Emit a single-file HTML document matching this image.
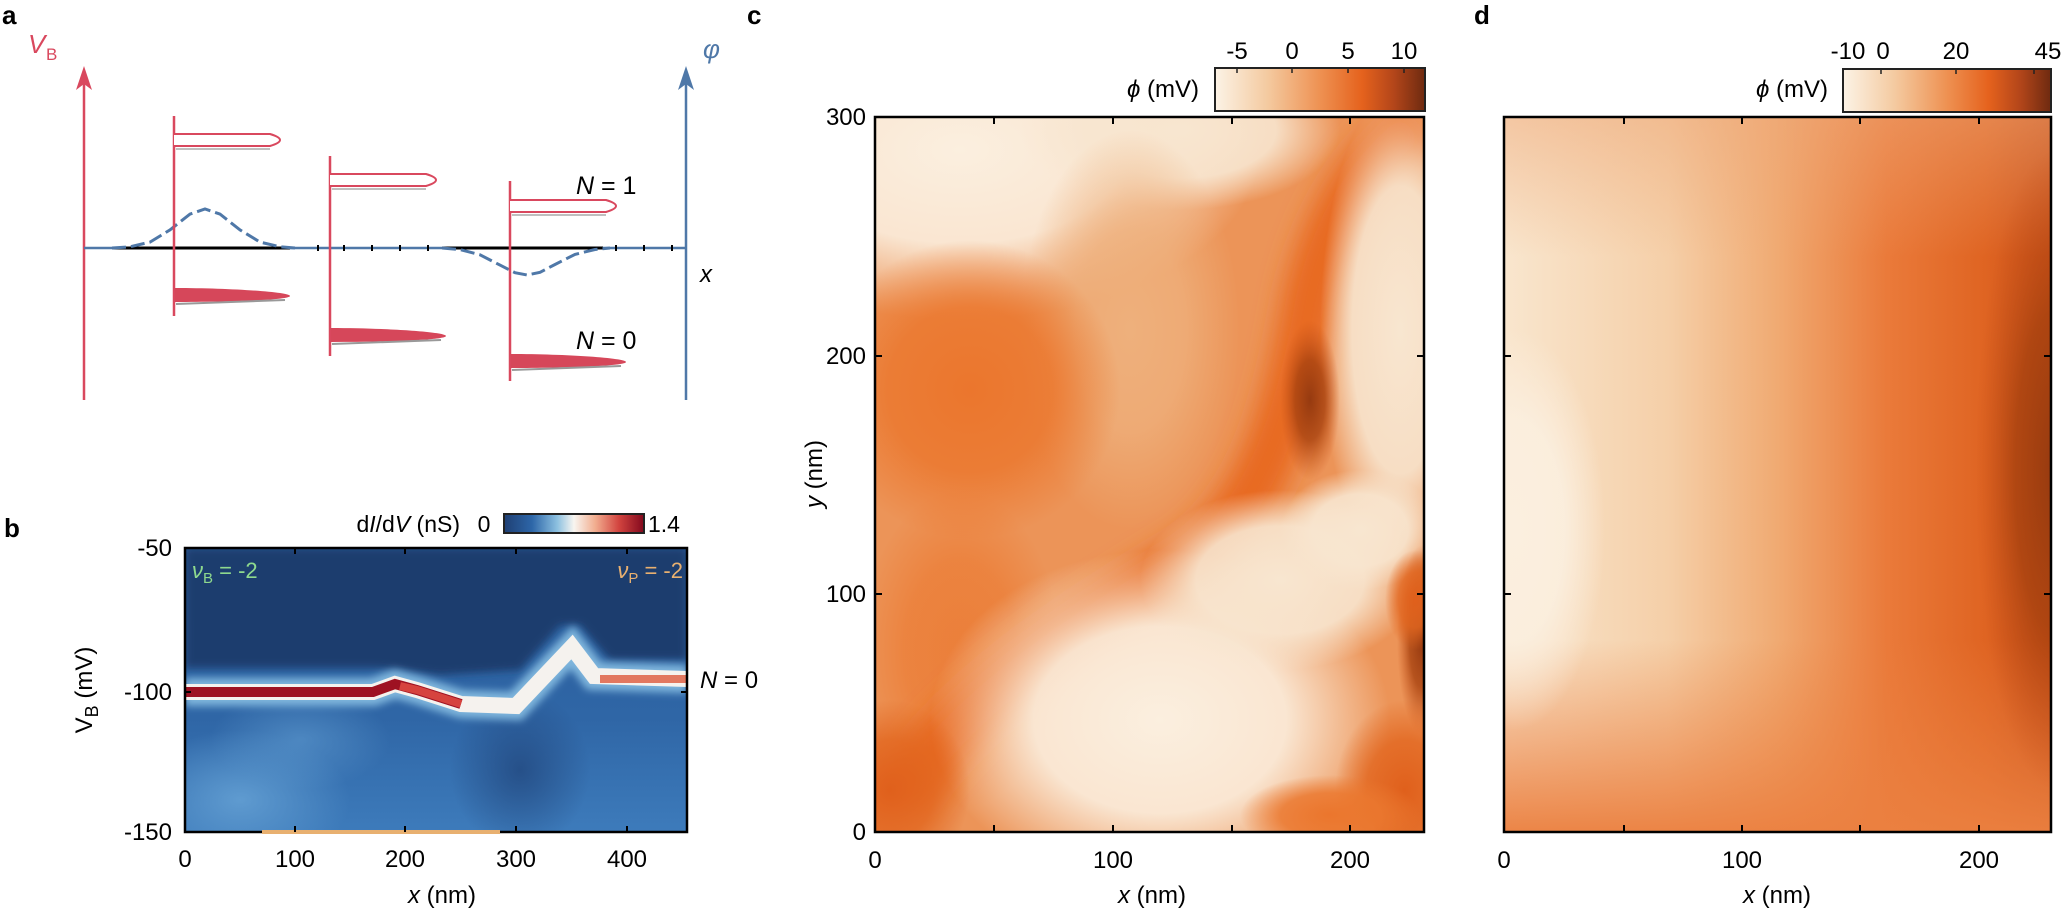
<!DOCTYPE html>
<html><head><meta charset="utf-8"><style>
html,body{margin:0;padding:0;background:#fff;}
svg{display:block;font-family:"Liberation Sans",Arial,sans-serif;}
</style></head><body>
<svg width="2068" height="912" viewBox="0 0 2068 912" xmlns="http://www.w3.org/2000/svg">
<defs>
<filter id="bl2" x="-50%" y="-50%" width="200%" height="200%"><feGaussianBlur stdDeviation="12"/></filter>
<filter id="bl3" x="-50%" y="-50%" width="200%" height="200%"><feGaussianBlur stdDeviation="4"/></filter>
<clipPath id="cb"><rect x="185" y="548" width="502" height="284"/></clipPath>
<clipPath id="cc"><rect x="875" y="117" width="549" height="715"/></clipPath>
<clipPath id="cd"><rect x="1504" y="117" width="547" height="715"/></clipPath>
<radialGradient id="rCream"><stop offset="0" stop-color="#fbefdf"/><stop offset="0.55" stop-color="#fbefdf" stop-opacity="0.9"/><stop offset="1" stop-color="#fbefdf" stop-opacity="0"/></radialGradient>
<radialGradient id="rCream2"><stop offset="0" stop-color="#f8e6d0"/><stop offset="0.6" stop-color="#f8e6d0" stop-opacity="0.9"/><stop offset="1" stop-color="#f8e6d0" stop-opacity="0"/></radialGradient>
<radialGradient id="rPale"><stop offset="0" stop-color="#eeb07c"/><stop offset="0.5" stop-color="#eeb07c" stop-opacity="0.8"/><stop offset="1" stop-color="#eeb07c" stop-opacity="0"/></radialGradient>
<radialGradient id="rOr"><stop offset="0" stop-color="#eb762d"/><stop offset="0.55" stop-color="#eb782f" stop-opacity="0.85"/><stop offset="1" stop-color="#eb782f" stop-opacity="0"/></radialGradient>
<radialGradient id="rDeep"><stop offset="0" stop-color="#e0601c"/><stop offset="0.55" stop-color="#e2661f" stop-opacity="0.8"/><stop offset="1" stop-color="#e2661f" stop-opacity="0"/></radialGradient>
<radialGradient id="rBrown"><stop offset="0" stop-color="#963a10"/><stop offset="0.5" stop-color="#a8420f" stop-opacity="0.8"/><stop offset="1" stop-color="#c85018" stop-opacity="0"/></radialGradient>
<radialGradient id="rLB"><stop offset="0" stop-color="#5f9bd0"/><stop offset="1" stop-color="#5f9bd0" stop-opacity="0"/></radialGradient>
<radialGradient id="rDB"><stop offset="0" stop-color="#22487f"/><stop offset="1" stop-color="#22487f" stop-opacity="0"/></radialGradient>
<linearGradient id="gb" x1="0" x2="1" y1="0" y2="0">
<stop offset="0" stop-color="#1f3f73"/><stop offset="0.2" stop-color="#2d66a8"/><stop offset="0.38" stop-color="#8cc0e0"/><stop offset="0.5" stop-color="#f8f5f0"/><stop offset="0.65" stop-color="#f2ae90"/><stop offset="0.82" stop-color="#d2443f"/><stop offset="1" stop-color="#82081d"/></linearGradient>
<linearGradient id="go" x1="0" x2="1" y1="0" y2="0">
<stop offset="0" stop-color="#fcf3e6"/><stop offset="0.25" stop-color="#f4caa0"/><stop offset="0.5" stop-color="#ee9152"/><stop offset="0.7" stop-color="#e5621d"/><stop offset="0.85" stop-color="#b4461a"/><stop offset="1" stop-color="#6e2a10"/></linearGradient>
<linearGradient id="gbl" x1="0" x2="0" y1="0" y2="1">
<stop offset="0" stop-color="#2a5c9a"/><stop offset="0.6" stop-color="#2f66a6"/><stop offset="1" stop-color="#3d7bbb"/></linearGradient>
<linearGradient id="gd" x1="0" x2="1" y1="0" y2="0">
<stop offset="0" stop-color="#f9e6ce"/><stop offset="0.3" stop-color="#f5cfa8"/><stop offset="0.5" stop-color="#f0aa72"/><stop offset="0.7" stop-color="#ea7a3a"/><stop offset="0.88" stop-color="#df6422"/><stop offset="1" stop-color="#c85018"/></linearGradient>
<linearGradient id="gdBot" x1="0" x2="0" y1="0" y2="1"><stop offset="0" stop-color="#eb8040" stop-opacity="0"/><stop offset="1" stop-color="#eb8040" stop-opacity="0.95"/></linearGradient>
<linearGradient id="gdTop" x1="0" x2="0" y1="0" y2="1"><stop offset="0" stop-color="#eea878" stop-opacity="0.5"/><stop offset="1" stop-color="#eea878" stop-opacity="0"/></linearGradient>
</defs>

<!-- ===== Panel a ===== -->
<text x="2" y="24" font-size="26" font-weight="bold">a</text>
<text x="28" y="53" font-size="26" font-style="italic" fill="#d9485e">V</text><text x="46" y="60" font-size="17" fill="#d9485e">B</text>
<line x1="84" y1="78" x2="84" y2="400" stroke="#d9485e" stroke-width="2.5"/>
<path d="M84 66 L76 90 L84 84 L92 90 Z" fill="#d9485e"/>
<line x1="686" y1="78" x2="686" y2="400" stroke="#4f78a8" stroke-width="2.5"/>
<path d="M686 66 L678 90 L686 84 L694 90 Z" fill="#4f78a8"/>
<text x="703" y="58" font-size="26" font-style="italic" fill="#4f78a8">φ</text>
<text x="700" y="282" font-size="24" font-style="italic">x</text>
<line x1="84" y1="248" x2="686" y2="248" stroke="#4f78a8" stroke-width="2.5"/>
<line x1="112" y1="248" x2="290" y2="248" stroke="#000" stroke-width="3"/>
<line x1="442" y1="248" x2="603" y2="248" stroke="#000" stroke-width="3"/>
<g stroke="#000" stroke-width="2"><line x1="318" y1="245" x2="318" y2="251"/><line x1="344" y1="245" x2="344" y2="251"/><line x1="372" y1="245" x2="372" y2="251"/><line x1="400" y1="245" x2="400" y2="251"/><line x1="428" y1="245" x2="428" y2="251"/><line x1="616" y1="245" x2="616" y2="251"/><line x1="644" y1="245" x2="644" y2="251"/><line x1="672" y1="245" x2="672" y2="251"/></g>
<path d="M112 248 L130 246.8 L150 242.1 L170 229.9 L190 214.1 L205 209 L220 214.1 L240 229.9 L260 242.1 L280 246.8 L295 248" fill="none" stroke="#4f78a8" stroke-width="3" stroke-dasharray="14 5"/>
<path d="M442 248 L460 249.6 L480 254.8 L500 265.1 L515 272.7 L527 275 L540 272.3 L555 264.5 L575 254.4 L595 249.5 L610 248" fill="none" stroke="#4f78a8" stroke-width="3" stroke-dasharray="14 5"/>
<g stroke="#d9485e" stroke-width="2.5">
<line x1="174" y1="116" x2="174" y2="316"/><line x1="330" y1="156" x2="330" y2="356"/><line x1="510" y1="181" x2="510" y2="381"/></g>
<g fill="#fff" stroke="#d9485e" stroke-width="2">
<path d="M174 134 L270 134 Q290 140 270 146 L174 146"/>
<path d="M330 174 L426 174 Q446 180 426 186 L330 186"/>
<path d="M510 200 L606 200 Q626 206 606 212 L510 212"/></g>
<g stroke="#aaa" stroke-width="1.5"><line x1="176" y1="149" x2="270" y2="149"/><line x1="332" y1="189" x2="426" y2="189"/><line x1="512" y1="215" x2="606" y2="215"/></g>
<g fill="#d6475a">
<path d="M175 288 C230 288 290 292 290 296 C290 300 230 302 175 302 Z"/>
<path d="M331 328 C386 328 446 332 446 336 C446 340 386 342 331 342 Z"/>
<path d="M511 354 C566 354 626 358 626 362 C626 366 566 368 511 368 Z"/></g>
<g stroke="#999" stroke-width="2"><line x1="176" y1="304" x2="285" y2="300"/><line x1="332" y1="344" x2="441" y2="340"/><line x1="512" y1="370" x2="621" y2="366"/></g>
<text x="576" y="194" font-size="25"><tspan font-style="italic">N</tspan> = 1</text>
<text x="576" y="349" font-size="25"><tspan font-style="italic">N</tspan> = 0</text>

<!-- ===== Panel b ===== -->
<text x="4" y="537" font-size="26" font-weight="bold">b</text>
<g clip-path="url(#cb)">
<rect x="185" y="548" width="502" height="284" fill="url(#gbl)"/>
<path d="M185 668 L380 668 L440 675 L520 670 L560 625 L580 625 L610 660 L687 660 L687 548 L185 548 Z" fill="#1d3d6e" filter="url(#bl3)"/>
<ellipse cx="240" cy="800" rx="110" ry="70" fill="url(#rLB)"/>
<ellipse cx="300" cy="740" rx="90" ry="50" fill="url(#rLB)" opacity="0.6"/>
<ellipse cx="520" cy="770" rx="70" ry="80" fill="url(#rDB)" opacity="0.8"/>
<path d="M185 692 L373 692 L395 684 L417 690 L461 704 L516 706 L572 647 L594 676 L687 679" fill="none" stroke="#7fb6dd" stroke-width="28" filter="url(#bl3)"/>
<path d="M185 692 L373 692 L395 684 L417 690 L461 704 L516 706 L572 647 L594 676 L687 679" fill="none" stroke="#f5f2ee" stroke-width="16"/>
<path d="M185 692 L373 692 L395 684 L417 690 L461 704" fill="none" stroke="#9e1222" stroke-width="10"/>
<path d="M400 686 L417 690 L461 704" fill="none" stroke="#d6433e" stroke-width="8"/>
<path d="M600 679 L687 679" fill="none" stroke="#e27860" stroke-width="8"/>
</g>
<rect x="185" y="548" width="502" height="284" fill="none" stroke="#000" stroke-width="2.5"/>
<line x1="262" y1="832" x2="500" y2="832" stroke="#e8b070" stroke-width="4"/>
<g stroke="#000" stroke-width="2"><line x1="295" y1="548" x2="295" y2="554"/><line x1="405" y1="548" x2="405" y2="554"/><line x1="516" y1="548" x2="516" y2="554"/><line x1="627" y1="548" x2="627" y2="554"/><line x1="295" y1="832" x2="295" y2="826"/><line x1="405" y1="832" x2="405" y2="826"/><line x1="516" y1="832" x2="516" y2="826"/><line x1="627" y1="832" x2="627" y2="826"/><line x1="185" y1="692" x2="191" y2="692"/><line x1="687" y1="692" x2="681" y2="692"/></g>
<g font-size="24" text-anchor="end"><text x="172" y="556">-50</text><text x="172" y="700">-100</text><text x="172" y="840">-150</text></g>
<g font-size="24" text-anchor="middle"><text x="185" y="867">0</text><text x="295" y="867">100</text><text x="405" y="867">200</text><text x="516" y="867">300</text><text x="627" y="867">400</text></g>
<text x="442" y="903" font-size="24" text-anchor="middle"><tspan font-style="italic">x</tspan> (nm)</text>
<text transform="translate(92 690) rotate(-90)" font-size="24" text-anchor="middle">V<tspan font-size="18" dy="6">B</tspan><tspan dy="-6"> (mV)</tspan></text>
<text x="192" y="578" font-size="22" fill="#8ed98e"><tspan font-style="italic">ν</tspan><tspan font-size="15" dy="5">B</tspan><tspan dy="-5"> = -2</tspan></text>
<text x="683" y="578" font-size="22" fill="#e8b070" text-anchor="end"><tspan font-style="italic">ν</tspan><tspan font-size="15" dy="5">P</tspan><tspan dy="-5"> = -2</tspan></text>
<text x="700" y="688" font-size="24"><tspan font-style="italic">N</tspan> = 0</text>
<rect x="504" y="514" width="140" height="19" fill="url(#gb)" stroke="#222" stroke-width="2"/>
<text x="460" y="532" font-size="23" text-anchor="end">d<tspan font-style="italic">I</tspan>/d<tspan font-style="italic">V</tspan> (nS)</text>
<text x="484" y="532" font-size="23" text-anchor="middle">0</text>
<text x="648" y="532" font-size="23">1.4</text>

<!-- ===== Panel c ===== -->
<text x="747" y="24" font-size="26" font-weight="bold">c</text>
<g clip-path="url(#cc)">
<rect x="875" y="117" width="549" height="715" fill="#ec9458"/>
<ellipse cx="960" cy="150" rx="300" ry="170" fill="url(#rCream)"/>
<ellipse cx="1180" cy="130" rx="160" ry="80" fill="url(#rCream2)"/>
<ellipse cx="1130" cy="330" rx="110" ry="200" fill="url(#rPale)"/>
<ellipse cx="970" cy="390" rx="150" ry="150" fill="url(#rOr)"/>
<ellipse cx="960" cy="650" rx="100" ry="160" fill="url(#rOr)" opacity="0.7"/>
<path d="M900 800 C960 700 1090 620 1190 560 C1260 510 1290 420 1310 300 C1330 210 1370 160 1420 120" fill="none" stroke="#e86a22" stroke-width="55" filter="url(#bl2)"/>
<ellipse cx="1400" cy="330" rx="80" ry="240" fill="url(#rCream2)"/>
<ellipse cx="1160" cy="720" rx="230" ry="170" fill="url(#rCream)"/>
<ellipse cx="1280" cy="580" rx="140" ry="90" fill="url(#rCream2)"/>
<ellipse cx="1360" cy="530" rx="80" ry="60" fill="url(#rCream2)"/>
<ellipse cx="1310" cy="400" rx="30" ry="80" fill="url(#rBrown)"/>
<ellipse cx="1422" cy="640" rx="25" ry="95" fill="url(#rBrown)"/>
<ellipse cx="1415" cy="600" rx="30" ry="50" fill="url(#rDeep)"/>
<ellipse cx="890" cy="790" rx="80" ry="90" fill="url(#rDeep)"/>
<ellipse cx="1405" cy="790" rx="70" ry="90" fill="url(#rDeep)"/>
<ellipse cx="1330" cy="815" rx="90" ry="40" fill="url(#rOr)"/>
</g>
<rect x="875" y="117" width="549" height="715" fill="none" stroke="#000" stroke-width="2.5"/>
<g stroke="#000" stroke-width="2">
<line x1="994" y1="117" x2="994" y2="124"/><line x1="1113" y1="117" x2="1113" y2="124"/><line x1="1232" y1="117" x2="1232" y2="124"/><line x1="1350" y1="117" x2="1350" y2="124"/>
<line x1="994" y1="832" x2="994" y2="825"/><line x1="1113" y1="832" x2="1113" y2="825"/><line x1="1232" y1="832" x2="1232" y2="825"/><line x1="1350" y1="832" x2="1350" y2="825"/>
<line x1="875" y1="356" x2="882" y2="356"/><line x1="875" y1="594" x2="882" y2="594"/><line x1="1424" y1="356" x2="1417" y2="356"/><line x1="1424" y1="594" x2="1417" y2="594"/></g>
<g font-size="24" text-anchor="end"><text x="866" y="125">300</text><text x="866" y="364">200</text><text x="866" y="602">100</text><text x="866" y="840">0</text></g>
<g font-size="24" text-anchor="middle"><text x="875" y="868">0</text><text x="1113" y="868">100</text><text x="1350" y="868">200</text></g>
<text x="1152" y="903" font-size="24" text-anchor="middle"><tspan font-style="italic">x</tspan> (nm)</text>
<text transform="translate(822 474) rotate(-90)" font-size="24" text-anchor="middle"><tspan font-style="italic">y</tspan> (nm)</text>
<rect x="1215" y="68" width="210" height="43" fill="url(#go)" stroke="#222" stroke-width="2"/>
<g stroke="#222" stroke-width="1.5"><line x1="1237" y1="69" x2="1237" y2="73"/><line x1="1292" y1="69" x2="1292" y2="73"/><line x1="1348" y1="69" x2="1348" y2="73"/><line x1="1404" y1="69" x2="1404" y2="73"/></g>
<g font-size="24" text-anchor="middle"><text x="1237" y="59">-5</text><text x="1292" y="59">0</text><text x="1348" y="59">5</text><text x="1404" y="59">10</text></g>
<text x="1199" y="97" font-size="24" text-anchor="end"><tspan font-style="italic">ϕ</tspan> (mV)</text>

<!-- ===== Panel d ===== -->
<text x="1474" y="24" font-size="26" font-weight="bold">d</text>
<g clip-path="url(#cd)">
<rect x="1504" y="117" width="547" height="715" fill="url(#gd)"/>
<rect x="1504" y="117" width="547" height="140" fill="url(#gdTop)"/>
<rect x="1504" y="640" width="547" height="192" fill="url(#gdBot)"/>
<ellipse cx="1515" cy="530" rx="90" ry="200" fill="url(#rCream)"/>
<ellipse cx="2055" cy="470" rx="80" ry="320" fill="url(#rBrown)"/>
</g>
<rect x="1504" y="117" width="547" height="715" fill="none" stroke="#000" stroke-width="2.5"/>
<g stroke="#000" stroke-width="2">
<line x1="1624" y1="117" x2="1624" y2="124"/><line x1="1742" y1="117" x2="1742" y2="124"/><line x1="1860" y1="117" x2="1860" y2="124"/><line x1="1979" y1="117" x2="1979" y2="124"/>
<line x1="1624" y1="832" x2="1624" y2="825"/><line x1="1742" y1="832" x2="1742" y2="825"/><line x1="1860" y1="832" x2="1860" y2="825"/><line x1="1979" y1="832" x2="1979" y2="825"/>
<line x1="1504" y1="356" x2="1511" y2="356"/><line x1="1504" y1="594" x2="1511" y2="594"/><line x1="2051" y1="356" x2="2044" y2="356"/><line x1="2051" y1="594" x2="2044" y2="594"/></g>
<g font-size="24" text-anchor="middle"><text x="1504" y="868">0</text><text x="1742" y="868">100</text><text x="1979" y="868">200</text></g>
<text x="1777" y="903" font-size="24" text-anchor="middle"><tspan font-style="italic">x</tspan> (nm)</text>
<rect x="1843" y="69" width="208" height="43" fill="url(#go)" stroke="#222" stroke-width="2"/>
<g stroke="#222" stroke-width="1.5"><line x1="1881" y1="70" x2="1881" y2="74"/><line x1="1956" y1="70" x2="1956" y2="74"/><line x1="2034" y1="70" x2="2034" y2="74"/></g>
<g font-size="24" text-anchor="middle"><text x="1848" y="59">-10</text><text x="1883" y="59">0</text><text x="1956" y="59">20</text><text x="2048" y="59">45</text></g>
<text x="1828" y="97" font-size="24" text-anchor="end"><tspan font-style="italic">ϕ</tspan> (mV)</text>
</svg>
</body></html>
